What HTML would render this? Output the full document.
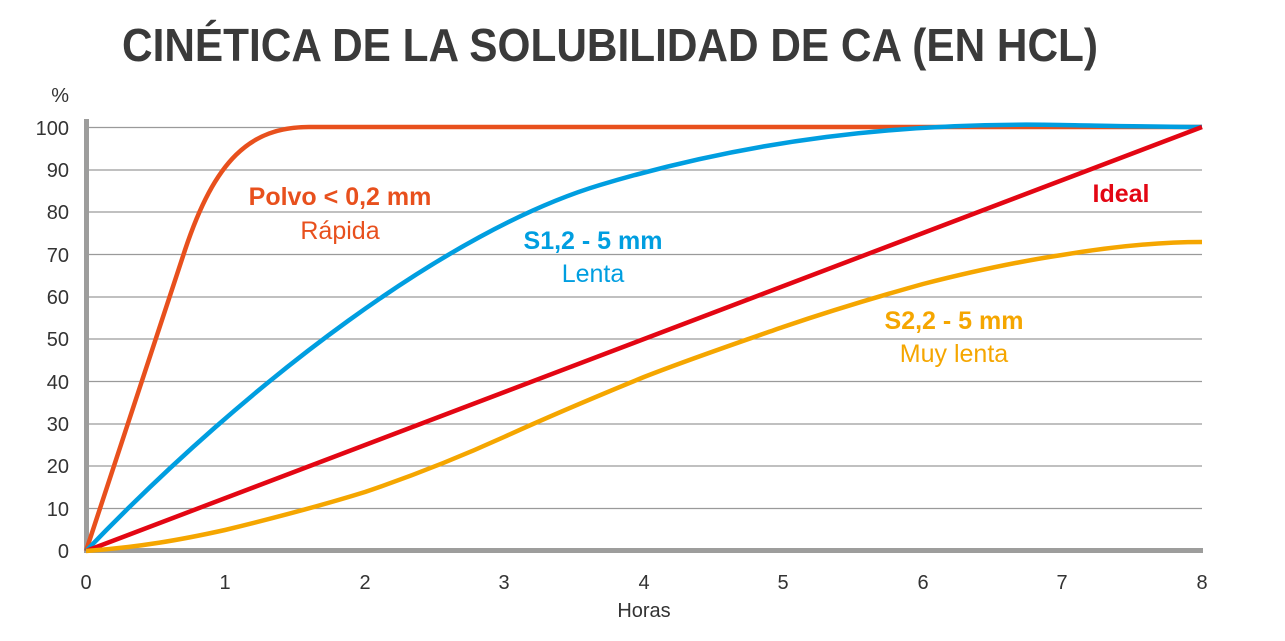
<!DOCTYPE html>
<html><head><meta charset="utf-8"><style>
html,body{margin:0;padding:0;background:#fff}
svg{display:block}
</style></head><body>
<svg width="1285" height="641" viewBox="0 0 1285 641" xmlns="http://www.w3.org/2000/svg" font-family="Liberation Sans, sans-serif">
<text x="122" y="61" font-size="46" font-weight="bold" fill="#3a3a3a" textLength="976" lengthAdjust="spacingAndGlyphs">CINÉTICA DE LA SOLUBILIDAD DE CA (EN HCL)</text>
<g stroke="#9a9a9a" stroke-width="1.3">
<line x1="86" x2="1202" y1="127.5" y2="127.5"/><line x1="86" x2="1202" y1="170" y2="170"/><line x1="86" x2="1202" y1="212" y2="212"/><line x1="86" x2="1202" y1="254.5" y2="254.5"/><line x1="86" x2="1202" y1="297" y2="297"/><line x1="86" x2="1202" y1="339" y2="339"/><line x1="86" x2="1202" y1="381.5" y2="381.5"/><line x1="86" x2="1202" y1="424" y2="424"/><line x1="86" x2="1202" y1="466" y2="466"/><line x1="86" x2="1202" y1="508.5" y2="508.5"/>
</g>
<rect x="84" y="119" width="5" height="434" fill="#9d9d9c"/>
<rect x="84" y="548" width="1119" height="5" fill="#9d9d9c"/>
<g font-size="20" fill="#333" text-anchor="end">
<text x="69" y="102">%</text>
<text x="69" y="135">100</text><text x="69" y="177">90</text><text x="69" y="219">80</text><text x="69" y="262">70</text><text x="69" y="304">60</text><text x="69" y="346">50</text><text x="69" y="389">40</text><text x="69" y="431">30</text><text x="69" y="473">20</text><text x="69" y="516">10</text><text x="69" y="558">0</text>
</g>
<g font-size="20" fill="#333" text-anchor="middle">
<text x="86" y="589">0</text><text x="225" y="589">1</text><text x="365" y="589">2</text><text x="504" y="589">3</text><text x="644" y="589">4</text><text x="783" y="589">5</text><text x="923" y="589">6</text><text x="1062" y="589">7</text><text x="1202" y="589">8</text>
<text x="644" y="617">Horas</text>
</g>
<g fill="none" stroke-width="4.5" stroke-linejoin="round">
<path d="M86,551 L185,250 C215,160 250,127 309,127 L1202,127" stroke="#e8501d"/>
<path d="M86,551 C250,380 450,230 600,185 C750,140 900,122 1060,125 C1120,126 1170,127 1202,127" stroke="#009ee0"/>
<line x1="86" y1="551" x2="1202" y2="127" stroke="#e30613"/>
<path d="M86,551 C140,547 180,540 225,530 C270,519 320,506 365,492 C415,475 460,457 504,437 C550,416 600,395 644,377 C690,359 740,342 783,327 C830,311 880,296 923,284 C970,272 1015,262 1062,255 C1110,247 1160,242 1202,242" stroke="#f5a600"/>
</g>
<g font-size="25" text-anchor="middle">
<text x="340" y="205" fill="#e8501d" font-weight="bold">Polvo &lt; 0,2 mm</text>
<text x="340" y="239" fill="#e8501d">Rápida</text>
<text x="593" y="249" fill="#009ee0" font-weight="bold">S1,2 - 5 mm</text>
<text x="593" y="282" fill="#009ee0">Lenta</text>
<text x="1121" y="202" fill="#e30613" font-weight="bold">Ideal</text>
<text x="954" y="329" fill="#f5a600" font-weight="bold">S2,2 - 5 mm</text>
<text x="954" y="362" fill="#f5a600">Muy lenta</text>
</g>
</svg>
</body></html>
